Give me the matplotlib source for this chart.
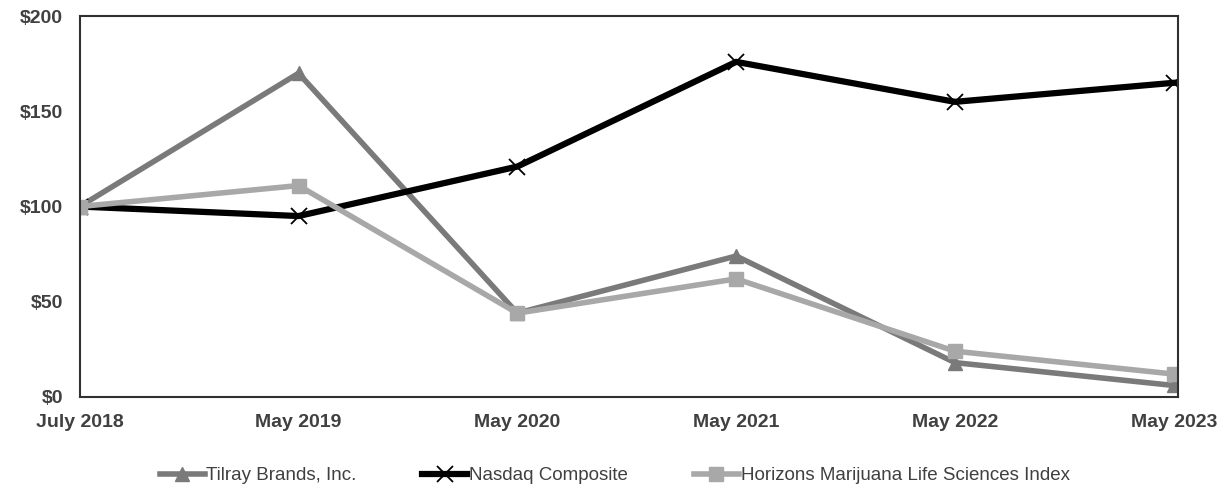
""" stock performance comparison chart """
import matplotlib
import matplotlib.pyplot as plt
import numpy as np
matplotlib.use('agg')

plt.rcParams['font.family'] = ['Liberation Sans', 'DejaVu Sans']

periods = ["July 2018", "May 2019", "May 2020", "May 2021", "May 2022", "May 2023"]
tilray = [100, 170, 44, 74, 18, 6]
nasdaq = [100, 95, 121, 176, 155, 165]
horizons = [100, 111, 44, 62, 24, 12]
y_ticks = [0, 50, 100, 150, 200]


def main():
    """ draws the chart and saves it """
    fig = plt.figure(figsize=(12.26, 4.9), dpi=100)
    ax = fig.add_axes([0.065, 0.19, 0.896, 0.777])
    x = np.arange(len(periods))

    ax.plot(x, tilray, color="#7a7a7a", lw=4, marker="^", ms=10,
            label="Tilray Brands, Inc.")
    ax.plot(x, nasdaq, color="black", lw=4.5, marker="x", ms=12, mew=1.3,
            label="Nasdaq Composite")
    ax.plot(x, horizons, color="#a8a8a8", lw=4, marker="s", ms=10,
            label="Horizons Marijuana Life Sciences Index")

    ax.set_xlim(0, len(periods) - 1 + 0.02)
    ax.set_ylim(0, 200)
    ax.set_xticks(x)
    ax.set_xticklabels(periods, fontsize=14, fontweight="bold", color="#404040")
    ax.set_yticks(y_ticks)
    ax.set_yticklabels(["$" + str(v) for v in y_ticks], fontsize=14,
                       fontweight="bold", color="#404040")
    ax.tick_params(length=0, pad=12)
    for sp in ax.spines.values():
        sp.set_linewidth(1.5)
        sp.set_color("#303030")

    ax.legend(loc="upper center", bbox_to_anchor=(0.487, -0.14), ncol=3,
              frameon=False, fontsize=13.5, handlelength=2.4, columnspacing=3.5,
              labelcolor="#404040", handletextpad=0.1)

    fig.savefig("out.png")


main()
